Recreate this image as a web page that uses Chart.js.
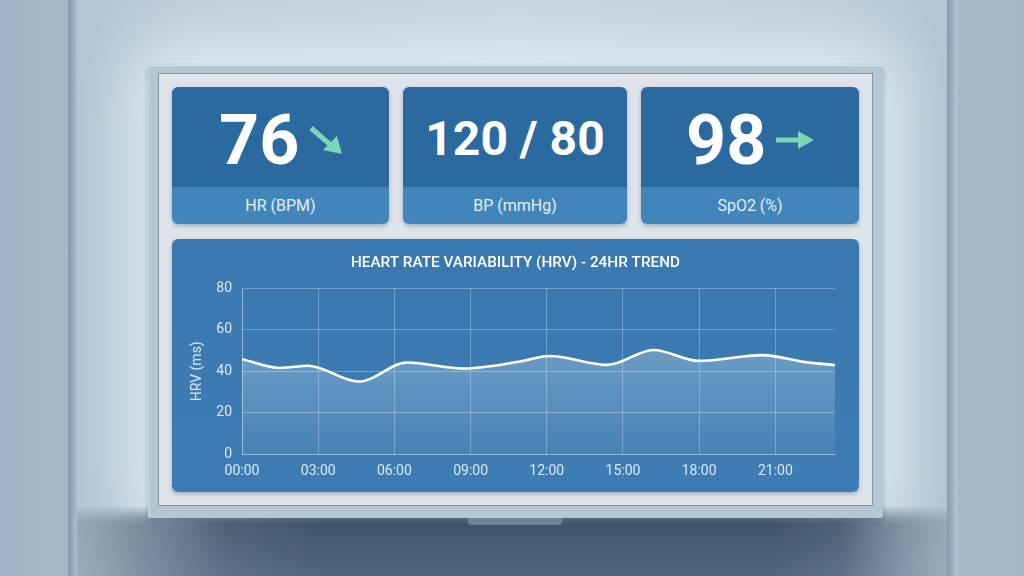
<!DOCTYPE html>
<html>
<head>
<meta charset="utf-8">
<script src="https://cdn.jsdelivr.net/npm/chart.js@4.4.1/dist/chart.umd.min.js"></script>
<style>
  html, body { margin:0; padding:0; width:1024px; height:576px; overflow:hidden; font-family: Roboto, "Noto Sans", sans-serif; }
  #wall { position:absolute; left:0; top:0; width:1024px; height:576px;
    background: linear-gradient(90deg, #9fb2c3 0px, #a6b9c9 68px, #b4c5d3 80px, #c0cfdb 200px, #c8d6e0 512px, #c0cfdb 820px, #b4c5d3 945px, #a6b9c9 958px, #a3b6c6 1024px); }
  #glow { position:absolute; left:148px; top:65px; width:735px; height:453px; border-radius:20px;
    box-shadow: 0 0 55px 22px rgba(222,237,246,0.85); background:#d8e6ee; }
  .pillar { position:absolute; top:0; height:576px; width:10px; background: linear-gradient(90deg, #8499ad, #93a8ba 40%, #a7bacb 80%, #b9cad7); }
  #shadowWrap { position:absolute; left:77px; top:506px; width:870px; height:70px;
    -webkit-mask-image: linear-gradient(180deg, rgba(0,0,0,0) 0px, rgba(0,0,0,0.7) 10px, #000 18px);
            mask-image: linear-gradient(180deg, rgba(0,0,0,0) 0px, rgba(0,0,0,0.7) 10px, #000 18px); }
  #shadow { position:absolute; left:0; top:0; width:870px; height:70px;
    background: linear-gradient(180deg, #3d5165 0%, #3f5367 20%, #485c71 55%, #53677c 100%);
    -webkit-mask-image: linear-gradient(90deg, rgba(0,0,0,0.25) 0%, rgba(0,0,0,0.6) 8%, rgba(0,0,0,0.9) 17%, #000 28%, #000 80%, rgba(0,0,0,0.9) 88%, rgba(0,0,0,0.5) 95%, rgba(0,0,0,0.25) 100%);
            mask-image: linear-gradient(90deg, rgba(0,0,0,0.25) 0%, rgba(0,0,0,0.6) 8%, rgba(0,0,0,0.9) 17%, #000 28%, #000 80%, rgba(0,0,0,0.9) 88%, rgba(0,0,0,0.5) 95%, rgba(0,0,0,0.25) 100%); }
  #bezel { position:absolute; left:148px; top:65px; width:735px; height:453px; background:#b6c7d4; border-radius:3px;
    box-shadow: 0 2px 5px rgba(40,60,80,0.3), inset 0 1px 0 rgba(255,255,255,0.5), inset 1px 0 0 rgba(255,255,255,0.35); }
  #screen { position:absolute; left:158px; top:73px; width:715px; height:433px; background:#dfe3ea; border:1px solid #8196a9; box-sizing:border-box; }
  #stand { position:absolute; left:468px; top:518px; width:94px; height:7px; background:#6f8498; border-radius:0 0 3px 3px; }
  .card { position:absolute; top:87px; height:137px; border-radius:6px; overflow:hidden; box-shadow: 0 2px 4px rgba(30,60,90,0.3); }
  .card .head { position:absolute; left:0; top:0; right:0; height:100px; background:#2b6a9f; }
  .card .strip { position:absolute; left:0; top:100px; right:0; height:37px; background:#4185bb; color:#e3eef7; font-size:16px; line-height:37px; text-align:center; }
  .val { position:absolute; color:#ffffff; font-weight:700; line-height:1; white-space:nowrap; }
  #panel { position:absolute; left:172px; top:239px; width:687px; height:253px; border-radius:6px;
    background: linear-gradient(180deg, #3a79af 0%, #3d7db3 100%); box-shadow: 0 2px 4px rgba(30,60,90,0.3); }
  #panel canvas { position:absolute; left:0; top:0; }
  svg.arrow { position:absolute; overflow:visible; }
</style>
</head>
<body>
<div id="wall"></div>
<div class="pillar" style="left:68px"></div>
<div class="pillar" style="left:947px"></div>
<div id="glow"></div>
<div id="shadowWrap"><div id="shadow"></div></div>
<div id="bezel"></div>
<div id="stand"></div>
<div id="screen"></div>

<div class="card" style="left:172px;width:217px">
  <div class="head"></div>
  <div class="strip" id="lab0"></div>
</div>
<div class="card" style="left:403px;width:224px">
  <div class="head"></div>
  <div class="strip" id="lab1"></div>
</div>
<div class="card" style="left:641px;width:218px">
  <div class="head"></div>
  <div class="strip" id="lab2"></div>
</div>

<div class="val" id="val0" style="left:219px;top:105px;font-size:70px"></div>
<div class="val" id="val1" style="left:403px;width:224px;text-align:center;top:115px;font-size:48px"></div>
<div class="val" id="val2" style="left:686px;top:105px;font-size:70px"></div>

<svg class="arrow" style="left:0;top:0" width="1024" height="576">
  <line x1="311" y1="128" x2="333" y2="147" stroke="#7ad7b6" stroke-width="5" stroke-linecap="butt"/>
  <polygon points="342,154 323,150 337,136" fill="#7ad7b6"/>
  <line x1="776" y1="140" x2="800" y2="140" stroke="#7ad7b6" stroke-width="5"/>
  <polygon points="814,140 798,131 798,149" fill="#7ad7b6"/>
</svg>

<div id="panel"><canvas id="c" width="687" height="253"></canvas></div>

<script>
// ---- data ----
const cardValues = ["76", "120 / 80", "98"];
const cardLabels = ["HR (BPM)", "BP (mmHg)", "SpO2 (%)"];
const chartTitle = "HEART RATE VARIABILITY (HRV) - 24HR TREND";
const yTitle = "HRV (ms)";
const hours = [0, 1.5, 2.6, 4.6, 6.5, 8.7, 10.95, 12.1, 14.4, 16.2, 18.0, 20.5, 22.2, 23.35];
const hrv   = [45.8, 41.6, 42.7, 35.0, 44.2, 41.3, 44.7, 47.4, 43.1, 50.3, 45.0, 47.8, 44.4, 43.0];
const tickHours  = [0, 3, 6, 9, 12, 15, 18, 21];
const tickLabels = ["00:00", "03:00", "06:00", "09:00", "12:00", "15:00", "18:00", "21:00"];
const yTicks = [0, 20, 40, 60, 80];

cardValues.forEach((v, i) => { document.getElementById('val' + i).textContent = v; });
cardLabels.forEach((v, i) => { document.getElementById('lab' + i).textContent = v; });

const points = hours.map((h, i) => ({ x: h, y: hrv[i] }));
const gridColor = 'rgba(255,255,255,0.28)';
const tickColor = 'rgba(232,241,248,0.92)';

new Chart(document.getElementById('c'), {
  type: 'line',
  data: {
    datasets: [{
      data: points,
      borderColor: '#ffffff',
      borderWidth: 2.6,
      pointRadius: 0,
      cubicInterpolationMode: 'monotone',
      fill: 'origin',
      backgroundColor: (ctx) => {
        const ca = ctx.chart.chartArea;
        if (!ca) return 'rgba(255,255,255,0.15)';
        const g = ctx.chart.ctx.createLinearGradient(0, ca.top + 60, 0, ca.bottom);
        g.addColorStop(0, 'rgba(255,255,255,0.26)');
        g.addColorStop(1, 'rgba(255,255,255,0.05)');
        return g;
      }
    }]
  },
  options: {
    responsive: false,
    animation: false,
    layout: { padding: { left: 24, right: 24, top: 15, bottom: 3 } },
    plugins: {
      legend: { display: false },
      tooltip: { enabled: false },
      title: {
        display: true, text: chartTitle, color: '#ffffff',
        font: { family: 'Roboto', size: 15.3, weight: '500' },
        padding: { top: 0, bottom: 16 }
      }
    },
    scales: {
      x: {
        type: 'linear',
        min: hours[0], max: hours[hours.length - 1],
        afterBuildTicks: (s) => { s.ticks = tickHours.map(v => ({ value: v })); },
        grid: { color: gridColor, drawTicks: false, lineWidth: 1 },
        border: { color: gridColor },
        ticks: {
          color: tickColor, padding: 9,
          font: { family: 'Roboto', size: 14 },
          callback: (v) => tickLabels[tickHours.indexOf(v)] ?? ''
        }
      },
      y: {
        min: yTicks[0], max: yTicks[yTicks.length - 1],
        afterBuildTicks: (s) => { s.ticks = yTicks.map(v => ({ value: v })); },
        grid: { color: gridColor, drawTicks: false, lineWidth: 1 },
        border: { color: gridColor },
        ticks: { color: tickColor, padding: 10, font: { family: 'Roboto', size: 14 } },
        title: {
          display: true, text: yTitle, color: tickColor,
          font: { family: 'Roboto', size: 14 },
          padding: { top: -7.4, bottom: 0.9 }
        }
      }
    }
  }
});
</script>
</body>
</html>
